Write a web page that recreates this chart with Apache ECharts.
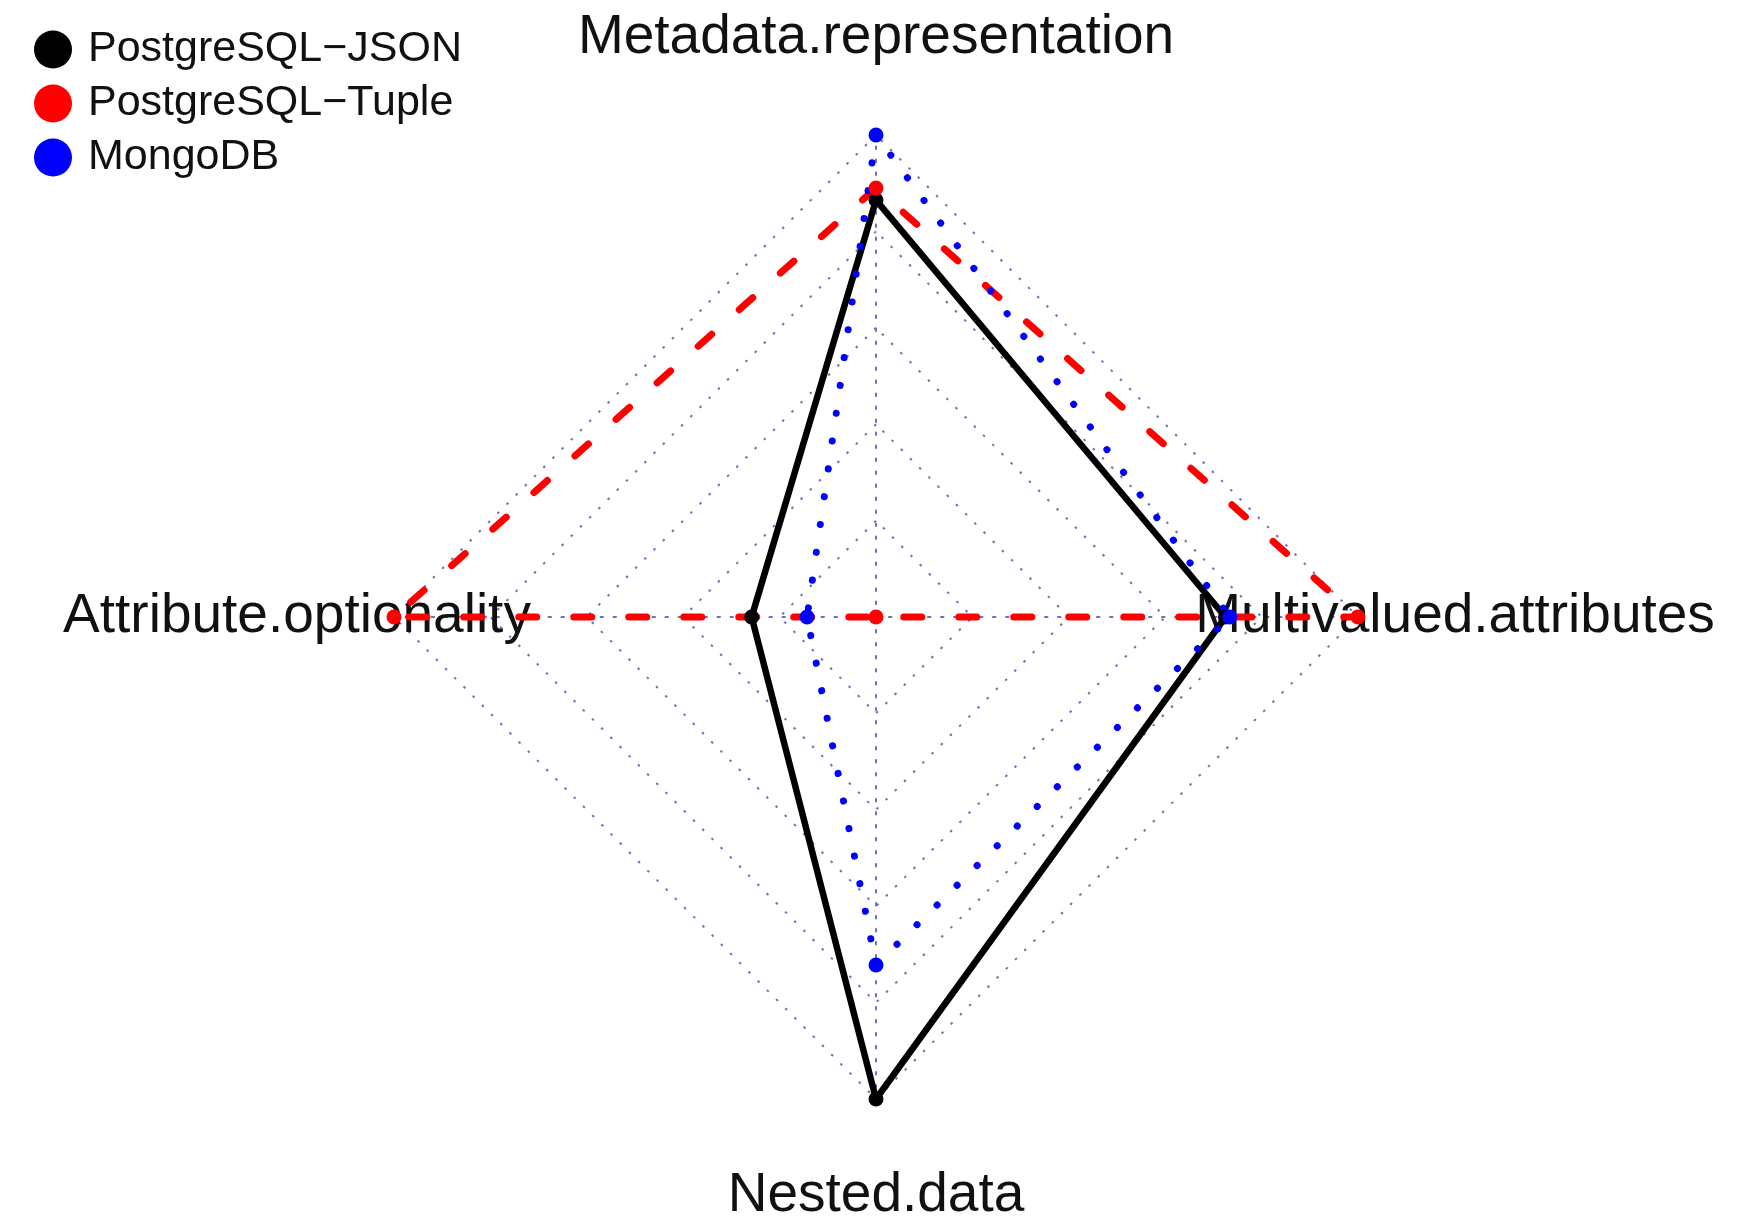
<!DOCTYPE html>
<html>
<head>
<meta charset="utf-8">
<script src="https://cdn.jsdelivr.net/npm/echarts@6/dist/echarts.min.js"></script>
<style>
html,body{margin:0;padding:0;background:#fff;}
#chart{width:1738px;height:1219px;}
</style>
</head>
<body>
<div id="chart"></div>
<script>
// Axes in the order they are drawn (top, then counter-clockwise)
const indicators = ['Metadata.representation', 'Attribute.optionality', 'Nested.data', 'Multivalued.attributes'];
const seriesNames = ['PostgreSQL\u2212JSON', 'PostgreSQL\u2212Tuple', 'MongoDB'];
const jsonValues  = [0.865, 0.258, 1.0, 0.725];
const tupleValues = [0.89, 1.0, 0.0, 1.0];
const mongoValues = [1.0, 0.143, 0.722, 0.734];
const axisMax = 1;

const chart = echarts.init(document.getElementById('chart'), null, {renderer: 'canvas'});
const FONT = '"Liberation Sans", Arial, Helvetica, sans-serif';
const gridColor = '#7070b8';

const option = {
  backgroundColor: '#fff',
  animation: false,
  legend: {
    left: 29, top: 23, orient: 'vertical',
    icon: 'circle', itemWidth: 38, itemHeight: 38, itemGap: 11,
    textStyle: {fontFamily: FONT, fontSize: 43, color: '#111', padding: [0,0,0,11]},
    data: seriesNames
  },
  radar: {
    center: [876, 617],
    radius: 482,
    shape: 'polygon',
    splitNumber: 5,
    indicator: indicators.map(n => ({name: n, min: 0, max: axisMax})),
    nameGap: 97,
    axisName: {
      color: '#111', fontFamily: FONT, fontSize: 55,
      align: 'center', verticalAlign: 'middle'
    },
    splitLine: {lineStyle: {color: gridColor, width: 2, type: [2.5, 10.5]}},
    splitArea: {show: false},
    axisLine: {lineStyle: {color: gridColor, width: 2, type: [2.5, 10.5]}},
    axisTick: {show: false},
    axisLabel: {show: false}
  },
  series: [{
    type: 'radar',
    data: [
      {
        name: seriesNames[0], value: jsonValues,
        symbol: 'circle', symbolSize: 15,
        itemStyle: {color: '#000'},
        lineStyle: {color: '#000', width: 6.5, type: 'solid'}
      },
      {
        name: seriesNames[1], value: tupleValues,
        symbol: 'circle', symbolSize: 15,
        itemStyle: {color: '#ff0000'},
        lineStyle: {color: '#ff0000', width: 7, type: [18, 37], cap: 'round'}
      },
      {
        name: seriesNames[2], value: mongoValues,
        symbol: 'circle', symbolSize: 15,
        itemStyle: {color: '#0000ff'},
        lineStyle: {color: '#0000ff', width: 7, type: [0.1, 28], cap: 'round'}
      }
    ]
  }]
};
chart.setOption(option);
</script>
</body>
</html>
